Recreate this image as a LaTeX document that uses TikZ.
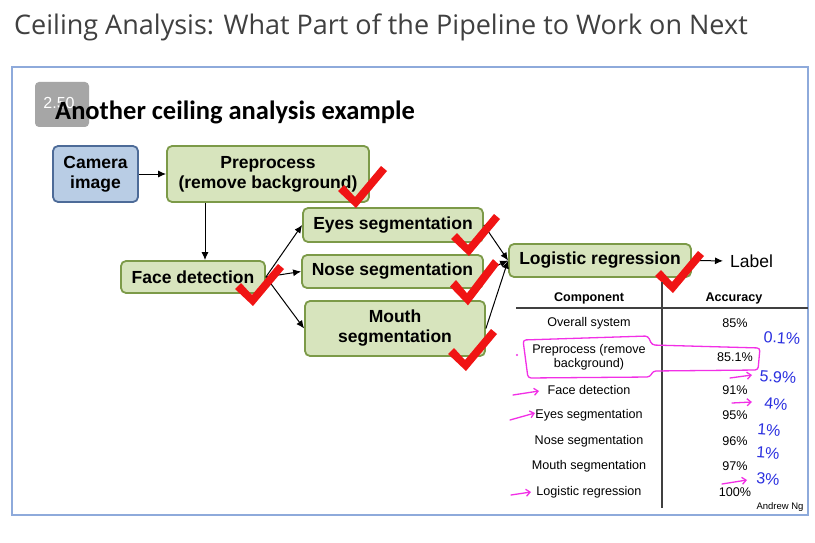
\documentclass[tikz,border=0pt]{standalone}
\usepackage{fontspec}
\setmainfont{Liberation Sans}
\newfontfamily\headfont{Open Sans}
\newfontfamily\slidefont{Carlito}
\usetikzlibrary{arrows.meta}

\definecolor{boxgreen}{HTML}{D7E4BD}
\definecolor{edgegreen}{HTML}{7C9A48}
\definecolor{boxblue}{HTML}{B9CDE5}
\definecolor{edgeblue}{HTML}{4D6B98}
\definecolor{framecol}{HTML}{8EAADB}
\definecolor{badgegray}{HTML}{A6A6A6}
\definecolor{tickred}{HTML}{F01414}
\definecolor{inkpink}{HTML}{F22FE6}
\definecolor{inkblue}{HTML}{2A2FE0}
\definecolor{rulegray}{HTML}{404040}

\begin{document}
\begin{tikzpicture}[x=1pt,y=-1pt,
  stage/.style={draw=edgegreen, fill=boxgreen, line width=1.8pt, rounded corners=5pt,
    font=\fontsize{17.5}{20}\selectfont\bfseries, align=center, inner sep=0pt},
  flow/.style={-{Latex[length=8pt,width=7pt]}, line width=1pt},
  cell/.style={font=\fontsize{12.6}{14.5}\selectfont, align=center, inner sep=0pt},
  headcell/.style={cell, font=\fontsize{12.6}{14.5}\selectfont\bfseries},
  ink/.style={inkpink, line width=1.3pt, line cap=round, line join=round},
  inkarrow/.style={ink, -{Straight Barb[length=4pt,width=7pt]}},
  handnum/.style={text=inkblue, font=\fontsize{16}{18}\selectfont, inner sep=0pt},
  tick/.pic={\fill[tickred] (-17,-14) -- (-11,-20) -- (0,-8) -- (26,-39) -- (32,-34) -- (1,3) -- cycle;}
]
\useasboundingbox (0,0) rectangle (815,543);
\fill[white] (0,0) rectangle (815,543);

% page heading and slide frame
\node[anchor=base west, inner sep=0pt, text=rulegray, font=\headfont\fontsize{27}{32}\selectfont]
  (heading) at (14,35) {Ceiling Analysis: What Part of the Pipeline to Work on Next};
\draw[framecol, line width=1.6pt] (12,67) rectangle (808,515);

% time badge under the slide title
\fill[badgegray, rounded corners=4pt] (35,82) rectangle (89,127);
\node[text=white, font=\fontsize{16}{18}\selectfont, inner sep=0pt] (badge) at (59,103) {2.50};
\node[anchor=base west, inner sep=0pt, font=\slidefont\bfseries\fontsize{26.5}{30}\selectfont]
  (slidetitle) at (55,120) {Another ceiling analysis example};

% pipeline stages
\node[stage, draw=edgeblue, fill=boxblue, minimum width=85pt, minimum height=56pt]
  (cam) at (95.5,174) {Camera\\image};
\node[stage, minimum width=202pt, minimum height=56pt] (pre) at (268,174) {Preprocess\\(remove background)};
\node[stage, minimum width=144pt, minimum height=32pt] (face) at (193,277) {Face detection};
\node[stage, minimum width=180pt, minimum height=34pt] (eyes) at (393,225) {Eyes segmentation};
\node[stage, minimum width=181pt, minimum height=33pt] (nose) at (392.5,271.5) {Nose segmentation};
\node[stage, minimum width=180pt, minimum height=55pt] (mouth) at (395,328.5) {Mouth\\segmentation};
\node[stage, minimum width=182pt, minimum height=33pt] (logit) at (600,260.5) {Logistic regression};
\node[anchor=west, inner sep=0pt, font=\fontsize{17.5}{20}\selectfont] (label) at (730,261) {Label};

% connectors
\draw[flow] (cam) -- (pre);
\draw[flow] ([xshift=-63pt]pre.south) -- ([xshift=12pt]face.north);
\draw[flow] (face.east) -- (eyes.west);
\draw[flow] (face.east) -- (nose.west);
\draw[flow] (face.east) -- (mouth.west);
\draw[flow] (eyes.east) -- (logit.west);
\draw[flow] (nose.east) -- (logit.west);
\draw[flow] (mouth.east) -- (logit.west);
\draw[flow, shorten >=7pt] (logit.east) -- (label.west);

% red ticks on every stage
\pic at (355,205) {tick};
\pic at (252,303) {tick};
\pic at (468,253) {tick};
\pic[yscale=1.1] at (467,302) {tick};
\pic at (465,368) {tick};
\pic at (672,290) {tick};

% ceiling analysis table
\node[headcell] (hcomp) at (589,298) {Component};
\node[headcell] (hacc) at (734,298) {Accuracy};
\draw[rulegray, line width=1.2pt] (516,308) -- (808,308);
\draw[rulegray, line width=1.2pt] (662,282) -- (662,508);

\node[cell] (c1) at (589,323) {Overall system};
\node[cell] (a1) at (735,323) {85\%};
\node[cell] (c2) at (589,357) {Preprocess (remove\\background)};
\node[cell] (a2) at (735,357) {85.1\%};
\node[cell] (c3) at (589,390) {Face detection};
\node[cell] (a3) at (735,390) {91\%};
\node[cell] (c4) at (589,415) {Eyes segmentation};
\node[cell] (a4) at (735,415) {95\%};
\node[cell] (c5) at (589,441) {Nose segmentation};
\node[cell] (a5) at (735,441) {96\%};
\node[cell] (c6) at (589,466) {Mouth segmentation};
\node[cell] (a6) at (735,466) {97\%};
\node[cell] (c7) at (589,492) {Logistic regression};
\node[cell] (a7) at (735,492) {100\%};
\node[font=\fontsize{9.5}{10}\selectfont, inner sep=0pt] (author) at (780,507) {Andrew Ng};

% pen annotations
\draw[ink, rounded corners=3pt] (523,340) -- (648,336) -- (652,345) -- (760,348)
  -- (758,370) -- (653,371) -- (650,377) -- (528,378) -- cycle;
\fill[inkpink] (517,355) circle (1.2pt);
\draw[inkarrow] (513,395) -- (539,391);
\draw[inkarrow] (510,420) -- (535,413);
\draw[inkarrow] (511,495) -- (531,492);
\draw[inkarrow] (730,378) -- (752,375);
\draw[inkarrow] (732,403) -- (752,402);
\draw[inkarrow] (722,484) -- (747,480);

\node[handnum, rotate=-4] (g1) at (782,338) {0.1\%};
\node[handnum, rotate=-4] (g2) at (778,377) {5.9\%};
\node[handnum, rotate=-4] (g3) at (776,404) {4\%};
\node[handnum, rotate=-4] (g4) at (769,430) {1\%};
\node[handnum, rotate=-4] (g5) at (768,453) {1\%};
\node[handnum, rotate=-4] (g6) at (768,479) {3\%};
\end{tikzpicture}
\end{document}
